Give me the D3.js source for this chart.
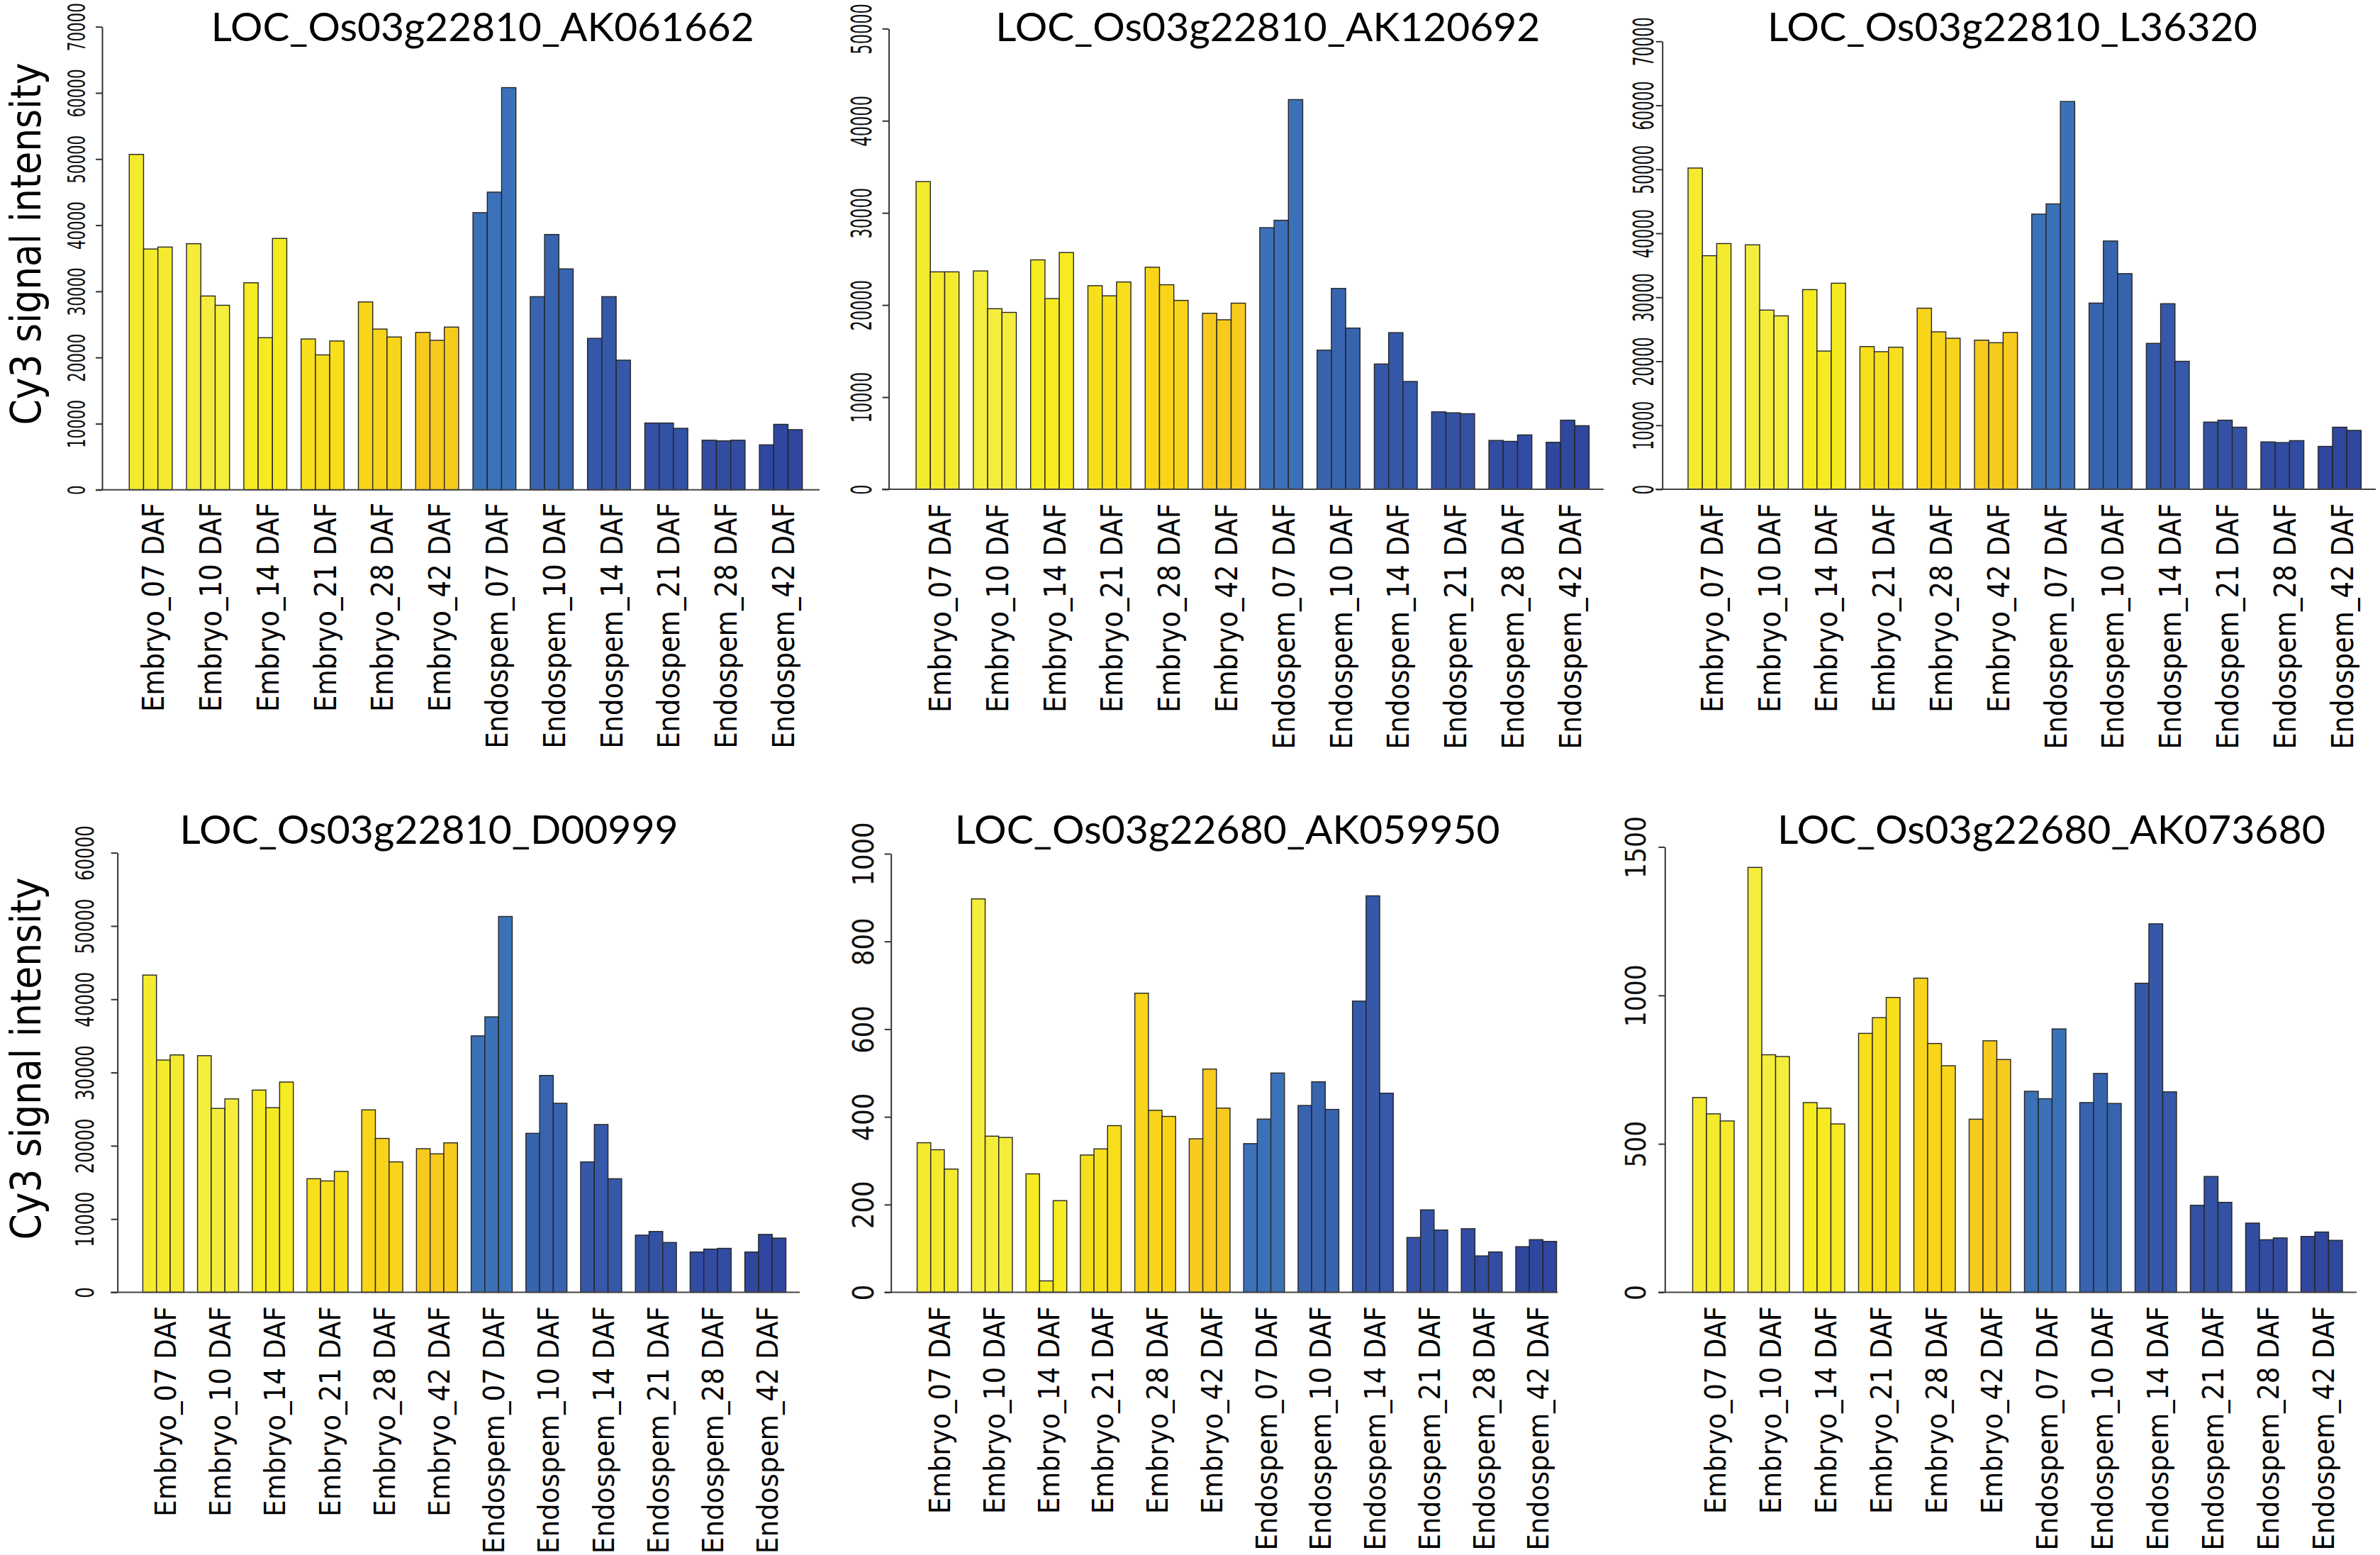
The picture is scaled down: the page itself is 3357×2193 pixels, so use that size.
<!DOCTYPE html>
<html><head><meta charset="utf-8">
<script src="https://cdn.jsdelivr.net/npm/d3@7"></script>
<style>body{margin:0;background:#fff} svg{display:block}</style>
</head><body>
<svg id="c" width="3357" height="2193"></svg>
<script>
// ---------------- DATA ----------------
const categories = ["Embryo_07 DAF","Embryo_10 DAF","Embryo_14 DAF","Embryo_21 DAF","Embryo_28 DAF","Embryo_42 DAF",
  "Endospem_07 DAF","Endospem_10 DAF","Endospem_14 DAF","Endospem_21 DAF","Endospem_28 DAF","Endospem_42 DAF"];
const replicates = ["rep1","rep2","rep3"];
const titles = ["LOC_Os03g22810_AK061662","LOC_Os03g22810_AK120692","LOC_Os03g22810_L36320",
  "LOC_Os03g22810_D00999","LOC_Os03g22680_AK059950","LOC_Os03g22680_AK073680"];
const yAxisLabel = "Cy3 signal intensity";

const values_AK061662 = [[50700,36400,36700],[37200,29300,27900],[31300,23000,38000],[22800,20400,22500],[28400,24300,23100],[23800,22600,24600],
  [41900,45000,60800],[29200,38600,33400],[22900,29200,19600],[10100,10100,9300],[7500,7400,7500],[6800,9900,9100]];
const values_AK120692 = [[33400,23600,23600],[23700,19600,19200],[24900,20700,25700],[22100,21000,22500],[24100,22200,20500],[19100,18400,20200],
  [28400,29200,42300],[15100,21800,17500],[13600,17000,11700],[8400,8300,8200],[5300,5200,5900],[5100,7500,6900]];
const values_L36320 = [[50200,36500,38400],[38200,28000,27100],[31200,21600,32200],[22300,21500,22200],[28300,24600,23600],[23300,22900,24500],
  [43000,44600,60600],[29100,38800,33700],[22800,29000,20000],[10500,10800,9700],[7400,7300,7600],[6700,9700,9200]];
const values_D00999 = [[43300,31700,32400],[32300,25100,26400],[27600,25200,28700],[15500,15200,16500],[24900,21000,17800],[19600,18900,20400],
  [35000,37600,51300],[21700,29600,25800],[17800,22900,15500],[7800,8300,6800],[5500,5900,6000],[5500,7900,7400]];
const values_AK059950 = [[341,325,281],[897,356,353],[270,26,209],[313,327,380],[682,415,401],[350,509,420],
  [339,395,500],[426,480,417],[664,904,454],[125,188,142],[145,83,92],[104,120,116]];
const values_AK073680 = [[656,601,577],[1431,800,794],[639,620,567],[872,925,993],[1058,838,763],[583,847,784],
  [677,652,887],[639,737,636],[1041,1241,675],[293,390,303],[233,177,183],[188,203,175]];

const ticks_AK061662 = [0,10000,20000,30000,40000,50000,60000,70000];
const ticks_AK120692 = [0,10000,20000,30000,40000,50000];
const ticks_L36320 = [0,10000,20000,30000,40000,50000,60000,70000];
const ticks_D00999 = [0,10000,20000,30000,40000,50000,60000];
const ticks_AK059950 = [0,200,400,600,800,1000];
const ticks_AK073680 = [0,500,1000,1500];

const panelValues = [values_AK061662,values_AK120692,values_L36320,values_D00999,values_AK059950,values_AK073680];
const panelTicks = [ticks_AK061662,ticks_AK120692,ticks_L36320,ticks_D00999,ticks_AK059950,ticks_AK073680];

// ---------------- STYLE / LAYOUT ----------------
const groupColors = ["#F4EA2E","#F5ED3C","#F6EA20","#F7DF1B","#F8D41A","#F7CA1E",
  "#3B71B8","#3864AF","#3558A8","#3452A3","#324CA1","#2F479E"];

const layout = [
  {axisX:144,   barX:182.3, unit:20.2,  zeroY:690.8, topY:37.7,  lineX0:135,   lineX1:1156, tickBase:120,   tickCap:25, tickChar:13.6, xlabTop:709,  xlabCap:31,   xlabLen:295, titleX:297.7, titleY:58,   titleW:766, ylab:344},
  {axisX:1253.6,barX:1292.1,unit:20.2,  zeroY:690,   topY:40.4,  lineX0:1244,  lineX1:2262, tickBase:1229,  tickCap:28, tickChar:14.3, xlabTop:710,  xlabCap:31,   xlabLen:295, titleX:1404.3,titleY:58,   titleW:768},
  {axisX:2344.7,barX:2381,  unit:20.2,  zeroY:690,   topY:58.3,  lineX0:2335,  lineX1:3351, tickBase:2332,  tickCap:28, tickChar:13.8, xlabTop:710,  xlabCap:31,   xlabLen:295, titleX:2492.9,titleY:58,   titleW:691},
  {axisX:165.7, barX:201.4, unit:19.3,  zeroY:1822.5,topY:1202.6,lineX0:156,   lineX1:1128, tickBase:132,   tickCap:26, tickChar:15.6, xlabTop:1842, xlabCap:29.3, xlabLen:297, titleX:253.6, titleY:1190, titleW:703, ylab:1493},
  {axisX:1256.7,barX:1293.6,unit:19.19, zeroY:1822.5,topY:1204,  lineX0:1247.7,lineX1:2197, tickBase:1231.7,tickCap:30, tickChar:22.5, xlabTop:1842, xlabCap:29.3, xlabLen:293, titleX:1346.7,titleY:1190, titleW:769},
  {axisX:2348.3,barX:2387.5,unit:19.5,  zeroY:1822.5,topY:1194.4,lineX0:2339,  lineX1:3324, tickBase:2320.5,tickCap:28, tickChar:22,   xlabTop:1842, xlabCap:29.3, xlabLen:293, titleX:2507,  titleY:1190, titleW:773}
];
const titleCap = 40;

// scale a text along its own reading direction so that it spans `len` px
function fitLen(node, base, len){
  const n = node.getComputedTextLength();
  d3.select(node).attr("transform", `${base} scale(${(len/n).toFixed(4)},1)`);
}

// ---------------- DRAW ----------------
const svg = d3.select("#c");
svg.append("rect").attr("width",3357).attr("height",2193).attr("fill","#fff");

layout.forEach((L,i)=>{
  const vals = panelValues[i], tks = panelTicks[i];
  const g = svg.append("g");
  const x = d3.scaleBand().domain(categories).range([L.barX, L.barX + 47*L.unit]).paddingInner(0.25).paddingOuter(0);
  const xi = d3.scaleBand().domain(replicates).range([0, x.bandwidth()]).padding(0);
  const y = d3.scaleLinear().domain([0, tks[tks.length-1]]).range([L.zeroY, L.topY]);

  // bars
  categories.forEach((c,ci)=>{
    g.selectAll(null).data(vals[ci]).enter().append("rect")
      .attr("x",(v,ri)=>x(c)+xi(replicates[ri]))
      .attr("y",v=>y(v))
      .attr("width",xi.bandwidth())
      .attr("height",v=>y(0)-y(v))
      .attr("fill",groupColors[ci])
      .attr("stroke","#262626").attr("stroke-width",1.4);
  });

  // baseline
  g.append("line").attr("x1",L.lineX0).attr("x2",L.lineX1).attr("y1",y(0)).attr("y2",y(0))
    .attr("stroke","#444").attr("stroke-width",2);

  // y axis
  const ax = g.append("g").attr("transform",`translate(${L.axisX},0)`)
    .call(d3.axisLeft(y).tickValues(tks).tickSize(9).tickSizeOuter(0).tickFormat(d3.format("d")));
  ax.select(".domain").attr("stroke","#333").attr("stroke-width",2);
  ax.selectAll(".tick line").attr("stroke","#333").attr("stroke-width",2);
  ax.selectAll(".tick text")
    .attr("x",null).attr("dy",null)
    .attr("text-anchor","middle")
    .attr("font-family","DejaVu Sans").attr("font-size",L.tickCap/0.729).attr("fill","#111")
    .each(function(d){ fitLen(this, `translate(${L.tickBase-L.axisX},0) rotate(-90)`, String(d).length*L.tickChar); });

  // x labels
  const fs = L.xlabCap/0.729;
  const labs = g.selectAll(null).data(categories).enter().append("text")
    .attr("text-anchor","end").attr("font-family","DejaVu Sans").attr("font-size",fs).attr("fill","#000")
    .text(c=>c);
  const k = L.xlabLen / labs.node().getComputedTextLength();
  labs.each(function(c){
    const base = `translate(${x(c)+x.bandwidth()/2 + L.xlabCap/2 + 3},${L.xlabTop}) rotate(-90)`;
    fitLen(this, base, this.getComputedTextLength()*k);
  });

  // title
  const t = g.append("text")
    .attr("font-family","Lato, 'Open Sans', sans-serif").attr("font-size",titleCap/0.7165).attr("fill","#000")
    .text(titles[i]);
  fitLen(t.node(), `translate(${L.titleX},${L.titleY})`, L.titleW);

  // y axis title
  if (L.ylab !== undefined) {
    const yl = g.append("text")
      .attr("text-anchor","middle").attr("font-family","DejaVu Sans").attr("font-size",59).attr("fill","#000")
      .text(yAxisLabel);
    fitLen(yl.node(), `translate(57,${L.ylab}) rotate(-90)`, 511);
  }
});
</script>
</body></html>
